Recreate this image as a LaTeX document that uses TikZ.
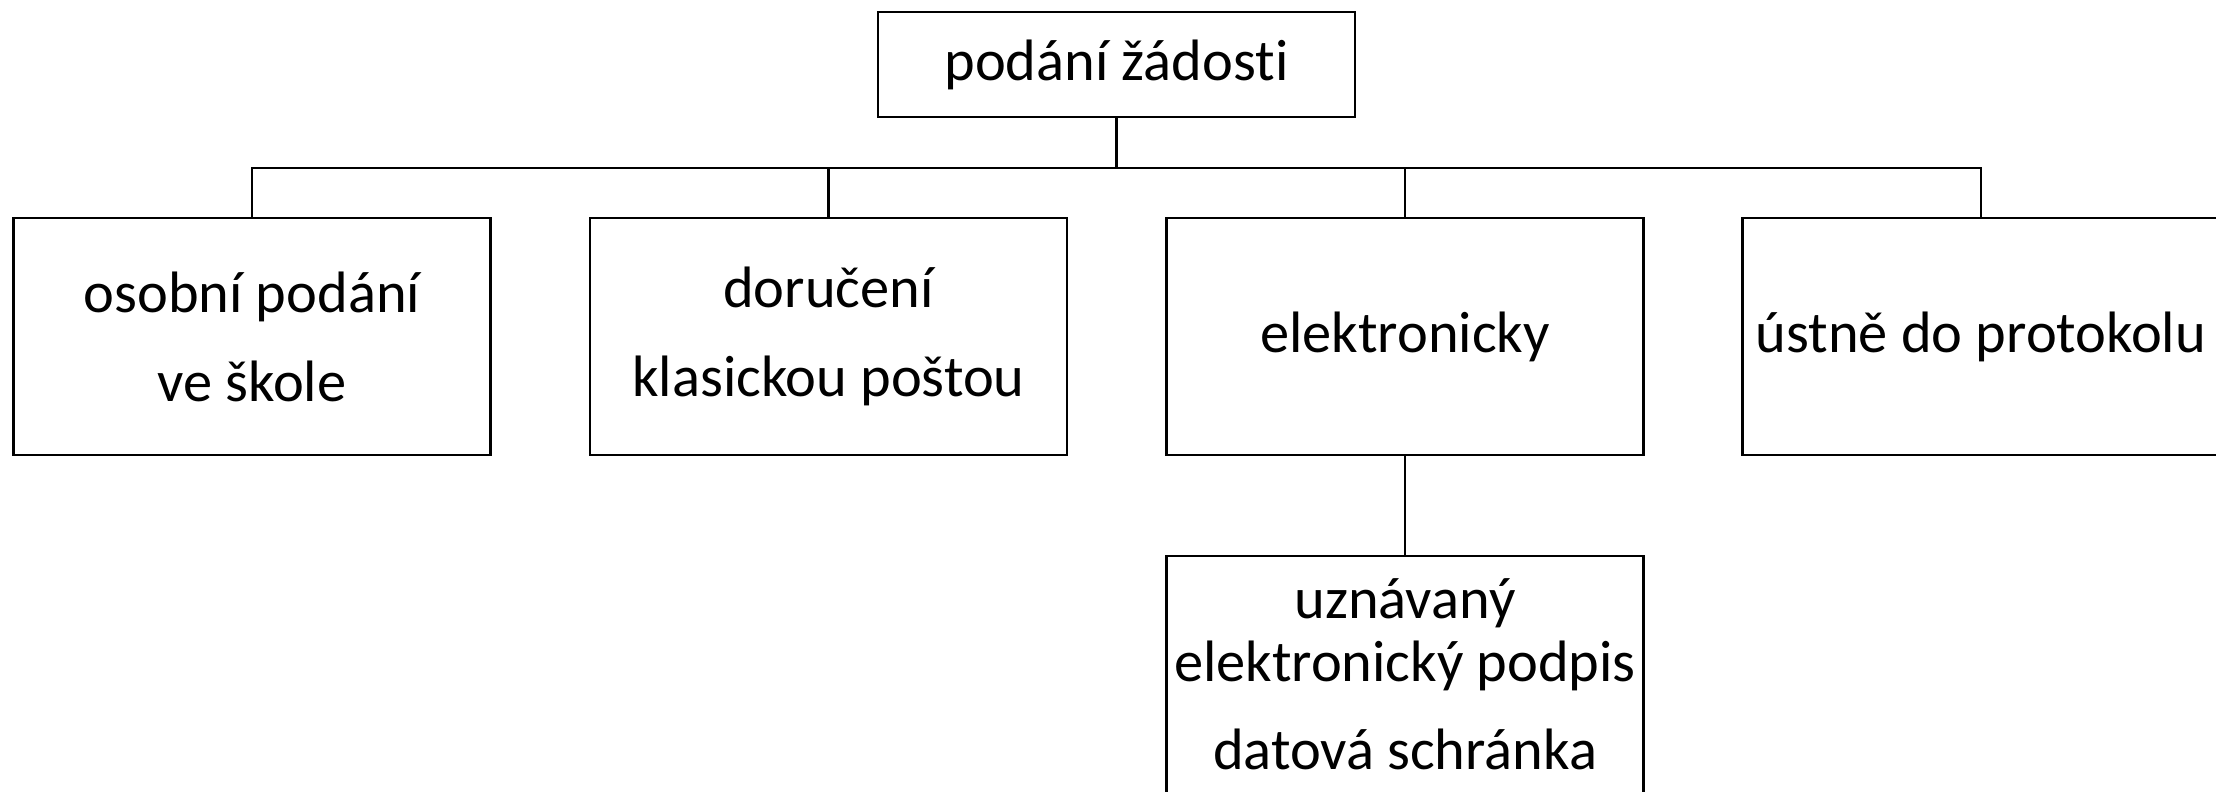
\documentclass[tikz,border=0pt]{standalone}
\usepackage{fontspec}
\setmainfont[Ligatures=NoCommon]{Carlito}
\begin{document}
\begin{tikzpicture}[x=0.5pt,y=-0.5pt,
  box/.style={draw=black,line width=1.25pt,rectangle,inner sep=0pt,outer sep=0pt,
    minimum width=238.5pt,align=center,font=\fontsize{29.2}{44.5}\selectfont},
  childbox/.style={box,minimum height=118.5pt},
  link/.style={draw=black,line width=1.25pt}]
\useasboundingbox (0,0) rectangle (2216,792);
\node[box,minimum height=52.5pt] (top) at (1116.5,64.5) {podání žádosti};
\node[childbox] (c1) at (252,336.5) {osobní podání\\ve škole};
\node[childbox] (c2) at (828.5,336.5) {doručení\\klasickou poštou};
\node[childbox] (c3) at (1405,336.5) {elektronicky};
\node[childbox] (c4) at (1981,336.5) {ústně do protokolu};
\node[childbox,font=\fontsize{29.2}{31.5}\selectfont] (c5) at (1405,674.5) {uznávaný\\elektronický podpis\\[12.5pt]datová schránka};
\coordinate (bus) at (0,168);
\draw[link] (top.south) -- (top.south |- bus);
\draw[link] (c1.north) -- (c1.north |- bus) -- (c4.north |- bus) -- (c4.north);
\draw[link] (c2.north) -- (c2.north |- bus);
\draw[link] (c3.north) -- (c3.north |- bus);
\draw[link] (c3.south) -- (c5.north);
\end{tikzpicture}
\end{document}
